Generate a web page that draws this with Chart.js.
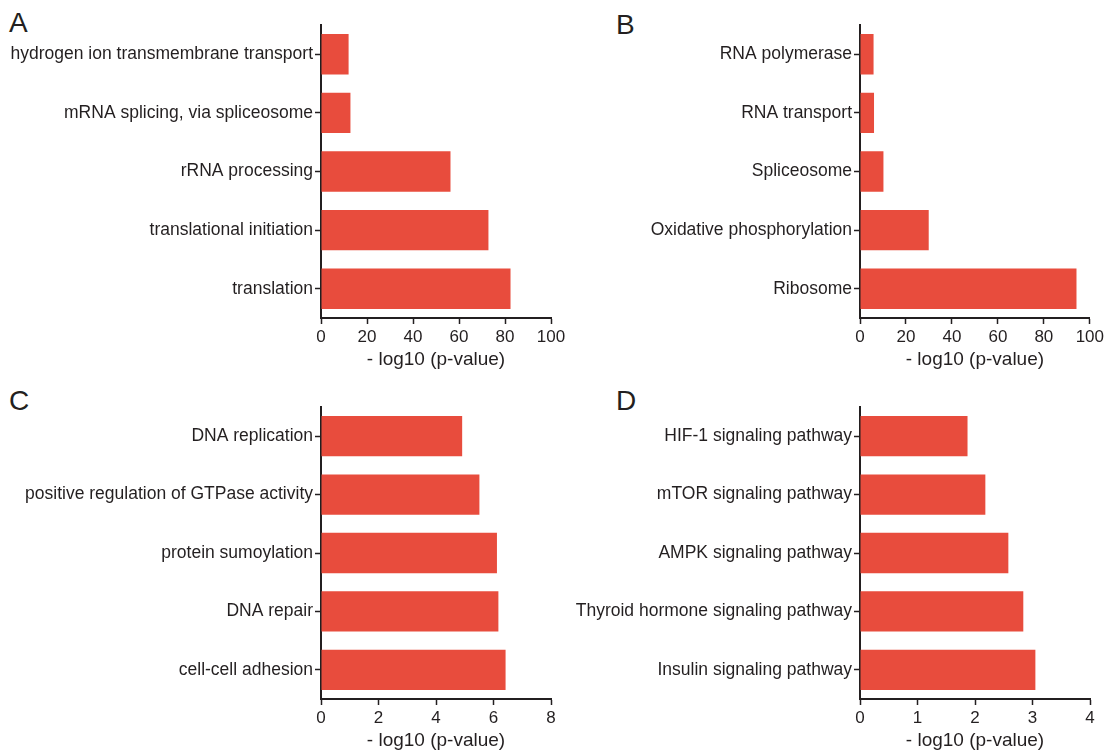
<!DOCTYPE html>
<html>
<head>
<meta charset="utf-8">
<script src="https://cdn.jsdelivr.net/npm/chart.js@4.4.1/dist/chart.umd.min.js"></script>
<style>
  body { margin: 0; background: #fff; width: 1107px; height: 753px; overflow: hidden; position: relative; font-family: "Liberation Sans", Arial, sans-serif; }
  canvas { position: absolute; }
  .letra { position: absolute; font-size: 28px; line-height: 28px; color: #231f20; }
</style>
</head>
<body>
<div class="letra" style="left:9px;top:9px">A</div>
<div class="letra" style="left:616px;top:11px">B</div>
<div class="letra" style="left:9px;top:387px">C</div>
<div class="letra" style="left:616px;top:387px">D</div>

<canvas id="canvasA" width="570" height="380" style="left:0px;top:0px"></canvas>
<canvas id="canvasB" width="567" height="380" style="left:540px;top:0px"></canvas>
<canvas id="canvasC" width="570" height="376" style="left:0px;top:385px"></canvas>
<canvas id="canvasD" width="567" height="376" style="left:540px;top:385px"></canvas>

<script>
// A - GO terms
const etiquetasA = ["hydrogen ion transmembrane transport", "mRNA splicing, via spliceosome", "rRNA processing", "translational initiation", "translation"];
const valoresA = [12.0, 12.8, 56.3, 72.8, 82.4];
// B - KEGG
const etiquetasB = ["RNA polymerase", "RNA transport", "Spliceosome", "Oxidative phosphorylation", "Ribosome"];
const valoresB = [5.9, 6.1, 10.2, 29.9, 94.2];
// C - GO terms
const etiquetasC = ["DNA replication", "positive regulation of GTPase activity", "protein sumoylation", "DNA repair", "cell-cell adhesion"];
const valoresC = [4.91, 5.51, 6.12, 6.17, 6.42];
// D - KEGG
const etiquetasD = ["HIF-1 signaling pathway", "mTOR signaling pathway", "AMPK signaling pathway", "Thyroid hormone signaling pathway", "Insulin signaling pathway"];
const valoresD = [1.87, 2.18, 2.58, 2.84, 3.05];

const tituloX = "- log10 (p-value)";
const rojo = "#e84c3d";
const negro = "#231f20";
const fuente = "'Liberation Sans', Arial, sans-serif";

function dibujarPanel(id, etiquetas, valores, maxX, paso, anchoY, padDer, padArriba){
    let ctx = document.getElementById(id).getContext('2d');
    return new Chart(ctx, {
        type: "bar",
        data: {
            labels: etiquetas,
            datasets: [{
                data: valores,
                backgroundColor: rojo,
                borderWidth: 0,
                categoryPercentage: 1,
                barPercentage: 0.69
            }]
        },
        options: {
            indexAxis: "y",
            responsive: false,
            animation: false,
            layout: { padding: { left: 0, right: padDer, top: padArriba, bottom: 0 } },
            plugins: { legend: { display: false }, tooltip: { enabled: false } },
            scales: {
                x: {
                    min: 0,
                    max: maxX,
                    ticks: { stepSize: paso, color: negro, padding: 3, maxRotation: 0, font: { family: fuente, size: 17 } },
                    grid: { drawOnChartArea: false, drawTicks: true, tickLength: 6, tickColor: negro, tickWidth: 1.5 },
                    border: { display: true, color: negro, width: 2 },
                    title: { display: true, text: tituloX, color: negro, padding: { top: 0, bottom: 9 }, font: { family: fuente, size: 19 } },
                    afterFit: s => { s.height = 62; }
                },
                y: {
                    ticks: { color: negro, padding: 2, font: { family: fuente, size: 17.5 } },
                    // ticks al centro de cada barra
                    grid: { offset: false, drawOnChartArea: false, drawTicks: true, tickLength: 6, tickColor: negro, tickWidth: 1.5 },
                    border: { display: true, color: negro, width: 2 },
                    afterFit: s => { s.width = anchoY; }
                }
            }
        }
    });
}

dibujarPanel("canvasA", etiquetasA, valoresA, 100, 20, 321, 19, 25);
dibujarPanel("canvasB", etiquetasB, valoresB, 100, 20, 320, 17, 25);
dibujarPanel("canvasC", etiquetasC, valoresC, 8, 2, 321, 19, 22);
dibujarPanel("canvasD", etiquetasD, valoresD, 4, 1, 320, 17, 22);
</script>
</body>
</html>
